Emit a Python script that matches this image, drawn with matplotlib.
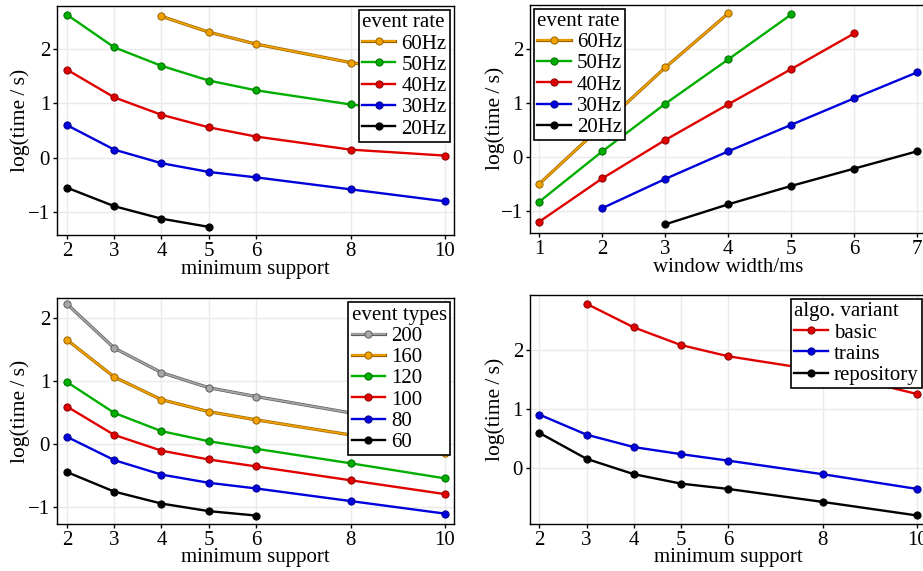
import matplotlib
matplotlib.use('Agg')
import matplotlib.pyplot as plt
import matplotlib.patheffects as pe

plt.rcParams['font.family'] = ['Liberation Serif', 'DejaVu Serif']
plt.rcParams['axes.unicode_minus'] = True

# panel 1: event rate vs minimum support
sup_x = [2, 3, 4, 5, 6, 8, 10]
rate_labels = ['60Hz', '50Hz', '40Hz', '30Hz', '20Hz']
p1_x = {
    '60Hz': [4, 5, 6, 8, 10],
    '50Hz': [2, 3, 4, 5, 6, 8, 10],
    '40Hz': [2, 3, 4, 5, 6, 8, 10],
    '30Hz': [2, 3, 4, 5, 6, 8, 10],
    '20Hz': [2, 3, 4, 5],
}
p1_y = {
    '60Hz': [2.60, 2.31, 2.09, 1.75, 1.50],
    '50Hz': [2.63, 2.03, 1.69, 1.42, 1.24, 0.98, 0.80],
    '40Hz': [1.62, 1.11, 0.79, 0.56, 0.39, 0.15, 0.04],
    '30Hz': [0.60, 0.15, -0.10, -0.26, -0.36, -0.58, -0.80],
    '20Hz': [-0.55, -0.89, -1.12, -1.27],
}

# panel 2: event rate vs window width
p2_x = {
    '60Hz': [1, 2, 3, 4],
    '50Hz': [1, 2, 3, 4, 5],
    '40Hz': [1, 2, 3, 4, 5, 6],
    '30Hz': [2, 3, 4, 5, 6, 7],
    '20Hz': [3, 4, 5, 6, 7],
}
p2_y = {
    '60Hz': [-0.50, 0.58, 1.65, 2.65],
    '50Hz': [-0.83, 0.10, 0.98, 1.80, 2.63],
    '40Hz': [-1.20, -0.40, 0.31, 0.97, 1.62, 2.28],
    '30Hz': [-0.95, -0.41, 0.10, 0.59, 1.08, 1.56],
    '20Hz': [-1.25, -0.88, -0.54, -0.22, 0.10],
}

# panel 3: event types
type_labels = ['200', '160', '120', '100', '80', '60']
p3_x = {
    '200': [2, 3, 4, 5, 6, 8, 10],
    '160': [2, 3, 4, 5, 6, 8, 10],
    '120': [2, 3, 4, 5, 6, 8, 10],
    '100': [2, 3, 4, 5, 6, 8, 10],
    '80': [2, 3, 4, 5, 6, 8, 10],
    '60': [2, 3, 4, 5, 6],
}
p3_y = {
    '200': [2.22, 1.52, 1.13, 0.89, 0.75, 0.49, 0.25],
    '160': [1.65, 1.06, 0.70, 0.51, 0.38, 0.14, -0.15],
    '120': [0.98, 0.49, 0.20, 0.04, -0.08, -0.31, -0.55],
    '100': [0.59, 0.14, -0.11, -0.25, -0.36, -0.58, -0.80],
    '80': [0.11, -0.26, -0.49, -0.62, -0.71, -0.91, -1.11],
    '60': [-0.45, -0.76, -0.95, -1.07, -1.14],
}

# panel 4: algorithm variants
variant_labels = ['basic', 'trains', 'repository']
p4_x = {
    'basic': [3, 4, 5, 6, 8, 10],
    'trains': [2, 3, 4, 5, 6, 8, 10],
    'repository': [2, 3, 4, 5, 6, 8, 10],
}
p4_y = {
    'basic': [2.78, 2.38, 2.08, 1.89, 1.64, 1.25],
    'trains': [0.90, 0.56, 0.35, 0.23, 0.12, -0.11, -0.36],
    'repository': [0.59, 0.15, -0.11, -0.27, -0.36, -0.58, -0.81],
}

ORANGE = '#F2A200'
GREEN = '#00AE00'
RED = '#E00000'
BLUE = '#0000DD'
BLACK = '#000000'
GRAY = '#A6A6A6'

rate_colors = {'60Hz': ORANGE, '50Hz': GREEN, '40Hz': RED, '30Hz': BLUE, '20Hz': BLACK}
type_colors = {'200': GRAY, '160': ORANGE, '120': GREEN, '100': RED, '80': BLUE, '60': BLACK}
variant_colors = {'basic': RED, 'trains': BLUE, 'repository': BLACK}
edge_colors = {ORANGE: '#9A6400', GREEN: '#006E00', RED: '#8A0000', BLUE: '#00008A',
               BLACK: '#000000', GRAY: '#5E5E5E'}


def draw_line(ax, x, y, color):
    outlined = color in (ORANGE, GRAY)
    lw = 1.3 if outlined else 1.7
    line, = ax.plot(x, y, color=color, lw=lw, zorder=3)
    if outlined:
        line.set_path_effects([pe.Stroke(linewidth=2.3, foreground=edge_colors[color]), pe.Normal()])
    dots, = ax.plot(x, y, ls='none', marker='o', ms=5.2, mfc=color,
                    mec=edge_colors[color], mew=0.7, zorder=4)
    return (line, dots)


def style_axes(ax, xlabel, xticks, yticks, xlim, ylim, ylab_x):
    ax.set_xlim(*xlim)
    ax.set_ylim(*ylim)
    ax.set_xticks(xticks)
    ax.set_yticks(yticks)
    ax.grid(True, color='#EAEAEA', lw=1.0, zorder=0)
    ax.set_axisbelow(True)
    ax.tick_params(labelsize=15, direction='out', length=3, width=1, pad=2)
    for s in ax.spines.values():
        s.set_linewidth(1.0)
    ax.set_xlabel(xlabel, fontsize=15, labelpad=-1)
    ax.set_ylabel('log(time\u2009/\u2009s)', fontsize=15.5)
    ax.yaxis.set_label_coords(ylab_x, 0.5)


def add_legend(ax, handles, labels, title, loc):
    leg = ax.legend(handles, labels, title=title, loc=loc, fontsize=15, title_fontsize=15,
                    fancybox=False, framealpha=1, edgecolor='black', borderaxespad=0.2,
                    borderpad=0.15, handlelength=1.6, handletextpad=0.3, labelspacing=0.08,
                    alignment='left')
    leg.get_frame().set_linewidth(1.2)
    leg.set_zorder(10)
    return leg


fig = plt.figure(figsize=(9.23, 5.71), dpi=100)

ax1 = fig.add_axes([0.0618, 0.5884, 0.4301, 0.4011])
h1 = [draw_line(ax1, p1_x[k], p1_y[k], rate_colors[k]) for k in rate_labels]
style_axes(ax1, 'minimum support', sup_x, [-1, 0, 1, 2], (1.79, 10.19), (-1.42, 2.79), -0.068)
add_legend(ax1, h1, rate_labels, 'event rate', 'upper right')

ax2 = fig.add_axes([0.5742, 0.592, 0.4291, 0.3998])
h2 = [draw_line(ax2, p2_x[k], p2_y[k], rate_colors[k]) for k in rate_labels]
style_axes(ax2, 'window width/ms', [1, 2, 3, 4, 5, 6, 7], [-1, 0, 1, 2], (0.85, 7.14), (-1.41, 2.81), -0.063)
add_legend(ax2, h2, rate_labels, 'event rate', 'upper left')

ax3 = fig.add_axes([0.0618, 0.0828, 0.4301, 0.3948])
h3 = [draw_line(ax3, p3_x[k], p3_y[k], type_colors[k]) for k in type_labels]
style_axes(ax3, 'minimum support', sup_x, [-1, 0, 1, 2], (1.79, 10.19), (-1.27, 2.31), -0.068)
add_legend(ax3, h3, type_labels, 'event types', 'upper right')

ax4 = fig.add_axes([0.5742, 0.0828, 0.4291, 0.4006])
h4 = [draw_line(ax4, p4_x[k], p4_y[k], variant_colors[k]) for k in variant_labels]
style_axes(ax4, 'minimum support', sup_x, [0, 1, 2], (1.80, 10.19), (-0.95, 2.93), -0.063)
add_legend(ax4, h4, variant_labels, 'algo. variant', 'upper right')

fig.savefig('out.png', dpi=100)
